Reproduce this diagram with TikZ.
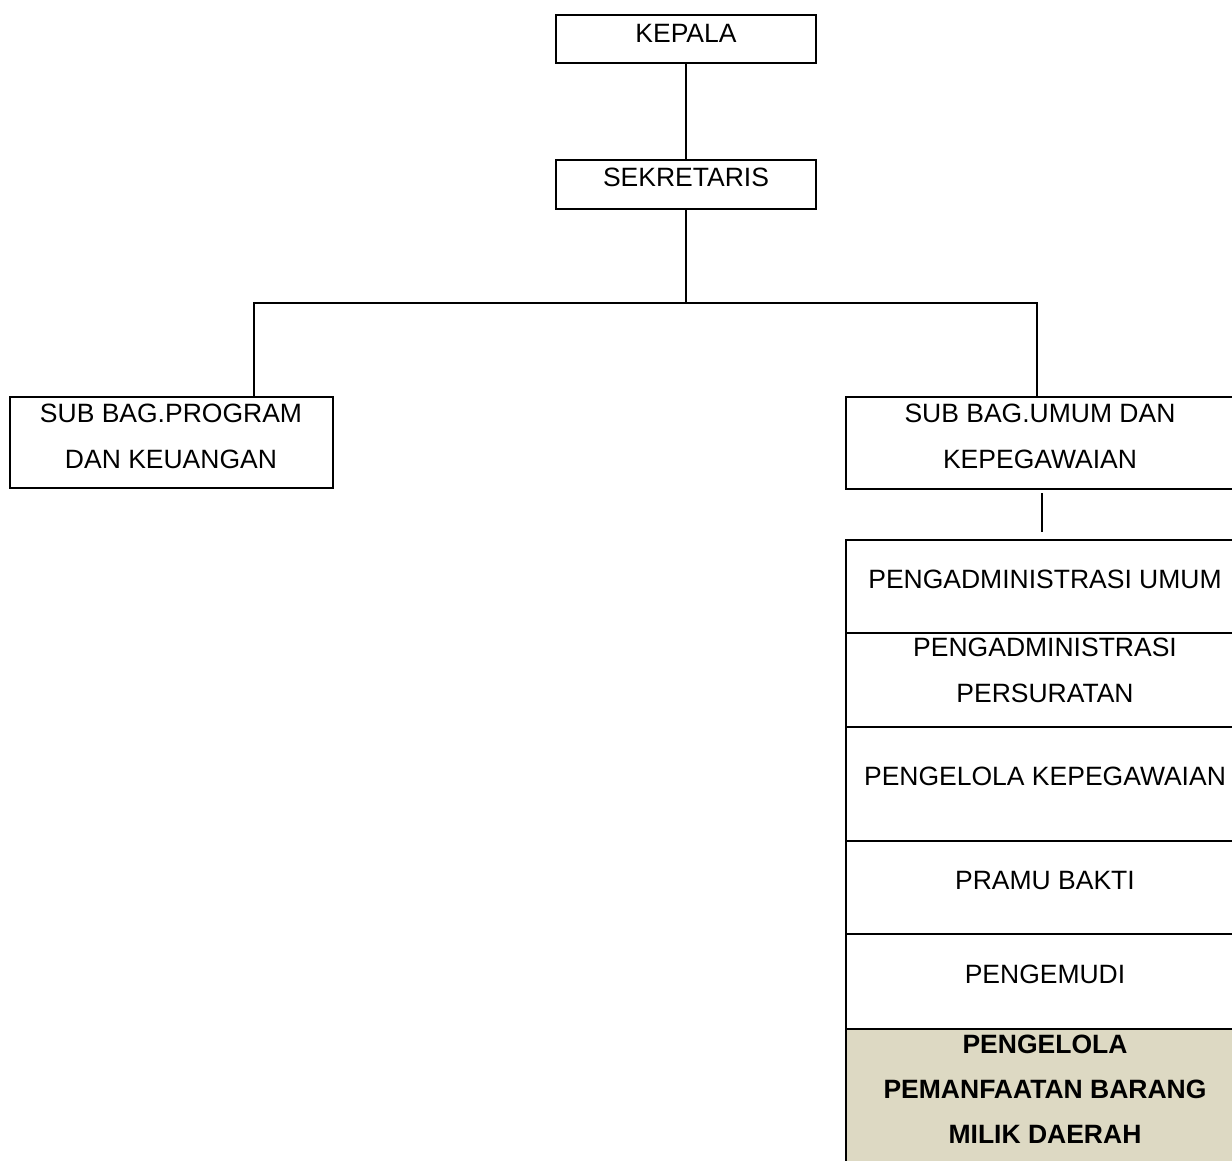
\documentclass[tikz,border=0pt]{standalone}
\usepackage{fontspec}
\setmainfont{Liberation Sans}
\newcommand\stack[1]{\vtop{\halign{\hfil##\hfil\cr#1\crcr}}}
\definecolor{rowtan}{RGB}{221,217,195}
\begin{document}
\begin{tikzpicture}[x=1pt,y=-1pt,
  box/.style={draw, line width=1.8pt, rectangle, inner sep=0pt, outer sep=0pt, anchor=north west},
  lbl/.style={anchor=base, inner sep=0pt, font=\fontsize{26.5}{46}\selectfont},
  conn/.style={line width=1.8pt}]
\useasboundingbox (0,0) rectangle (1232,1161);
\clip (0,0) rectangle (1232,1161);

% boxes
\node[box, minimum width=260pt, minimum height=48pt] (kepala) at (556,15) {};
\node[box, minimum width=260pt, minimum height=49pt] (sek) at (556,160) {};
\node[box, minimum width=323pt, minimum height=91pt] (prog) at (10,397) {};
\node[box, minimum width=400pt, minimum height=92pt] (umum) at (846,397) {};

% table rows
\node[box, minimum width=400pt, minimum height=93pt] (r1) at (846,540) {};
\node[box, minimum width=400pt, minimum height=94pt] (r2) at (846,633) {};
\node[box, minimum width=400pt, minimum height=114pt] (r3) at (846,727) {};
\node[box, minimum width=400pt, minimum height=93pt] (r4) at (846,841) {};
\node[box, minimum width=400pt, minimum height=95pt] (r5) at (846,934) {};
\node[box, fill=rowtan, minimum width=400pt, minimum height=160pt] (r6) at (846,1029) {};

% labels
\node[lbl] (kepalaT) at (686,43) {KEPALA};
\node[lbl] (sekT) at (686,187) {SEKRETARIS};
\node[lbl] (progT) at (171,422) {\stack{SUB BAG.PROGRAM\cr DAN KEUANGAN}};
\node[lbl] (umumT) at (1040,422) {\stack{SUB BAG.UMUM DAN\cr KEPEGAWAIAN}};
\node[lbl] (r1T) at (1045,588) {PENGADMINISTRASI UMUM};
\node[lbl] (r2T) at (1045,656) {\stack{PENGADMINISTRASI\cr PERSURATAN}};
\node[lbl] (r3T) at (1045,785) {PENGELOLA KEPEGAWAIAN};
\node[lbl] (r4T) at (1045,889) {PRAMU BAKTI};
\node[lbl] (r5T) at (1045,983) {PENGEMUDI};
\node[lbl, font=\fontsize{26.5}{45}\selectfont\bfseries] (r6T) at (1045,1053) {\stack{PENGELOLA\cr PEMANFAATAN BARANG\cr MILIK DAERAH}};

% connectors
\coordinate (hy) at (0,303);
\coordinate (split) at (sek.south |- hy);
\coordinate (lj) at (254,397);
\coordinate (rj) at (1037,397);
\coordinate (dc) at (1042,0);
\draw[conn] (kepala.south) -- (sek.north);
\draw[conn] (sek.south) -- (split);
\draw[conn] (prog.north -| lj) |- (split) -| (umum.north -| rj);
\draw[conn, shorten <=4pt, shorten >=8pt] (umum.south -| dc) -- (r1.north -| dc);
\end{tikzpicture}
\end{document}
